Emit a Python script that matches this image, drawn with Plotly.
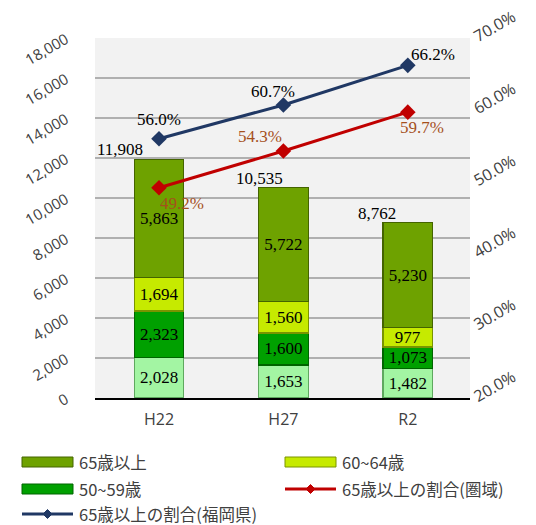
import plotly.graph_objects as go

categories = ["H22", "H27", "R2"]
age_40_49 = [2028, 1653, 1482]
age_50_59 = [2323, 1600, 1073]
age_60_64 = [1694, 1560, 977]
age_65_over = [5863, 5722, 5230]
ratio_area = [49.2, 54.3, 59.7]
ratio_fukuoka = [56.0, 60.7, 66.2]

totals = [a + b + c + d for a, b, c, d in zip(age_40_49, age_50_59, age_60_64, age_65_over)]

SERIF = "Liberation Serif"
SANS = "Open Sans"
CJK = "Noto Sans CJK JP"
LBL = 17

fig = go.Figure()

bar_series = [
    ("40~49歳", age_40_49, "#a3f5a3", "#5fa85f"),
    ("50~59歳", age_50_59, "#00a000", "#006400"),
    ("60~64歳", age_60_64, "#c6ea00", "#7a9400"),
    ("65歳以上", age_65_over, "#6ea200", "#446400"),
]
for name, vals, col, edge in bar_series:
    fig.add_trace(go.Bar(
        x=categories, y=vals, name=name,
        marker=dict(color=col, line=dict(color=edge, width=1.2)),
        texttemplate="%{y:,}", textposition="inside", insidetextanchor="middle",
        textfont=dict(family=SERIF, size=LBL, color="black"),
        showlegend=False,
    ))

fig.add_trace(go.Scatter(
    x=categories, y=ratio_area, yaxis="y2", name="65歳以上の割合(圏域)",
    mode="lines+markers", line=dict(color="#c00000", width=3),
    marker=dict(symbol="diamond", size=12, color="#c00000"), showlegend=False,
))
fig.add_trace(go.Scatter(
    x=categories, y=ratio_fukuoka, yaxis="y2", name="65歳以上の割合(福岡県)",
    mode="lines+markers", line=dict(color="#203864", width=3),
    marker=dict(symbol="diamond", size=12, color="#203864"), showlegend=False,
))

annotations = []
total_shift = [(-39, 10), (-24, 9), (-31, 9)]
for c, t, (dx, dy) in zip(categories, totals, total_shift):
    annotations.append(dict(x=c, y=t, xref="x", yref="y", text=f"{t:,}", showarrow=False,
                            xshift=dx, yshift=dy, font=dict(family=SERIF, size=LBL, color="black")))
blue_shift = [(0, 19), (-10, 13), (25, 11)]
for c, v, (dx, dy) in zip(categories, ratio_fukuoka, blue_shift):
    annotations.append(dict(x=c, y=v, xref="x", yref="y2", text=f"{v:.1f}%", showarrow=False,
                            xshift=dx, yshift=dy, font=dict(family=SERIF, size=LBL, color="black")))
red_shift = [(23, -16), (-23, 15), (14, -15)]
for c, v, (dx, dy) in zip(categories, ratio_area, red_shift):
    annotations.append(dict(x=c, y=v, xref="x", yref="y2", text=f"{v:.1f}%", showarrow=False,
                            xshift=dx, yshift=dy, font=dict(family=SERIF, size=LBL, color="#a5501c")))

# page has an 8px body offset
OFF = 8
L, T, W, H = 95 - OFF, 38 - OFF, 375, 360
def px(x):
    return (x - OFF - L) / W
def py(y):
    return (T + H - (y - OFF)) / H

shapes = []
legend_items = [
    ("bar", "65歳以上", "#6ea200", "#446400", 22, 462),
    ("bar", "60~64歳", "#c6ea00", "#7a9400", 285, 462),
    ("bar", "50~59歳", "#00a000", "#006400", 22, 489),
    ("line", "65歳以上の割合(圏域)", "#c00000", None, 285, 489),
    ("line", "65歳以上の割合(福岡県)", "#203864", None, 22, 514),
]
for kind, label, col, edge, x0, yc in legend_items:
    if kind == "bar":
        shapes.append(dict(type="rect", xref="paper", yref="paper",
                           x0=px(x0), x1=px(x0 + 51), y0=py(yc - 5), y1=py(yc + 5),
                           fillcolor=col, line=dict(color=edge, width=1)))
    else:
        shapes.append(dict(type="line", xref="paper", yref="paper",
                           x0=px(x0), x1=px(x0 + 51), y0=py(yc), y1=py(yc),
                           line=dict(color=col, width=3)))
        cx = x0 + 25.5
        d = 4.5
        path = (f"M {px(cx - d)},{py(yc)} L {px(cx)},{py(yc - d)} "
                f"L {px(cx + d)},{py(yc)} L {px(cx)},{py(yc + d)} Z")
        shapes.append(dict(type="path", xref="paper", yref="paper", path=path,
                           fillcolor=col, line=dict(color=col, width=1)))
    annotations.append(dict(x=px(x0 + 55), y=py(yc), xref="paper", yref="paper", text=label,
                            showarrow=False, xanchor="left", yanchor="middle",
                            font=dict(family=CJK, size=16.5, color="#404040")))

fig.update_layout(
    width=536, height=525,
    margin=dict(l=L, r=536 - L - W, t=T, b=525 - T - H, autoexpand=False),
    barmode="stack", bargap=0.6,
    paper_bgcolor="white", plot_bgcolor="#f2f2f2",
    font=dict(family=SANS, color="#404040"),
    uniformtext=dict(mode="show", minsize=LBL),
    xaxis=dict(showline=True, linecolor="black", linewidth=2, ticks="", automargin=False,
               ticklabelstandoff=6,
               tickfont=dict(family=SANS, size=16, color="#404040"), showgrid=False),
    yaxis=dict(range=[0, 18000], dtick=2000, tickformat=",", tickangle=-30,
               showgrid=True, gridcolor="#b0b0b0", gridwidth=1.5, zeroline=False,
               ticklabeloverflow="allow", automargin=False, ticklabelstandoff=28,
               tickfont=dict(family=SANS, size=15, color="#404040"), ticks=""),
    yaxis2=dict(range=[20, 70], dtick=10, overlaying="y", side="right",
                tickformat=".1f", ticksuffix="%", tickangle=-30, showgrid=False,
                zeroline=False, ticklabeloverflow="allow", automargin=False,
                ticklabelstandoff=3,
                tickfont=dict(family=SANS, size=16, color="#404040")),
    annotations=annotations,
    shapes=shapes,
    showlegend=False,
)

fig.write_html("out.html")
